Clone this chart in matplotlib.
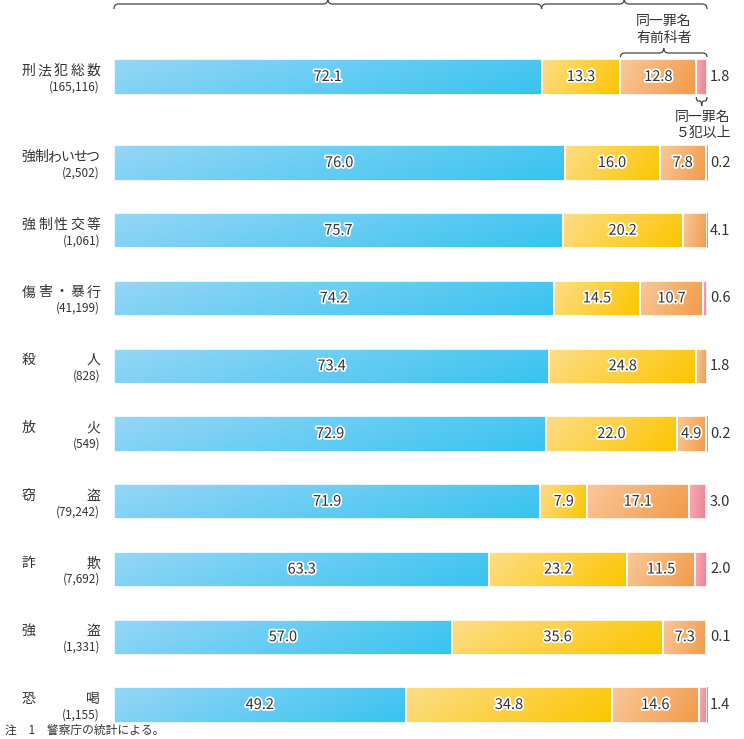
import numpy as np
import matplotlib.pyplot as plt
import matplotlib.transforms as mtransforms
import matplotlib.patheffects as pe
from matplotlib.colors import LinearSegmentedColormap
from matplotlib.path import Path
from matplotlib.patches import PathPatch

plt.rcParams['font.family'] = ['Noto Sans CJK JP', 'DejaVu Sans']

categories = ["刑法犯総数", "強制わいせつ", "強制性交等", "傷害・暴行", "殺人",
              "放火", "窃盗", "詐欺", "強盗", "恐喝"]
counts = ["(165,116)", "(2,502)", "(1,061)", "(41,199)", "(828)",
          "(549)", "(79,242)", "(7,692)", "(1,331)", "(1,155)"]
first_time = [72.1, 76.0, 75.7, 74.2, 73.4, 72.9, 71.9, 63.3, 57.0, 49.2]
other_prior = [13.3, 16.0, 20.2, 14.5, 24.8, 22.0, 7.9, 23.2, 35.6, 34.8]
same_prior = [12.8, 7.8, 4.1, 10.7, 1.8, 4.9, 17.1, 11.5, 7.3, 14.6]
same_5plus = [1.8, 0.2, 0.0, 0.6, 0.0, 0.2, 3.0, 2.0, 0.1, 1.4]

seg_colors = [("#95d6f6", "#38c3f0"),
              ("#fddd88", "#fcc500"),
              ("#f9c89a", "#f29a48"),
              ("#f6adb5", "#ee7f8f")]
text_color = "#333333"

W, H = 744, 739
x0_px, x1_px = 114, 707
top_px, row_px = 77, 67.75

fig = plt.figure(figsize=(W / 100, H / 100), dpi=100)
ax = fig.add_axes([x0_px / W, 0, (x1_px - x0_px) / W, 1])


def py(p):
    return (p - top_px) / row_px


def px_x(p):
    return (p - x0_px) / (x1_px - x0_px) * 100


n = len(categories)
ypos = np.array([0.0] + [py(163) + k for k in range(n - 1)])
bar_h = 0.52

gx, gy = np.meshgrid(np.linspace(0, 1, 64), np.linspace(0, 1, 16))
grad = 0.8 * gx + 0.2 * gy

halo = [pe.withStroke(linewidth=2.5, foreground="white")]
outside = [s5 if s5 > 0 else sp for sp, s5 in zip(same_prior, same_5plus)]

left = np.zeros(n)
for k, (seg, (c0, c1)) in enumerate(zip([first_time, other_prior, same_prior, same_5plus], seg_colors)):
    vals = np.array(seg)
    cmap = LinearSegmentedColormap.from_list("seg%d" % k, [c0, c1])
    bars = ax.barh(ypos, vals, left=left, height=bar_h, facecolor="none",
                   edgecolor="white", linewidth=1.2, zorder=3)
    for i, b in enumerate(bars):
        if vals[i] <= 0:
            b.set_linewidth(0)
            continue
        x, y, w, h = b.get_x(), b.get_y(), b.get_width(), b.get_height()
        im = ax.imshow(grad, cmap=cmap, extent=(x, x + w, y + h, y),
                       aspect="auto", interpolation="bilinear", zorder=2)
        im.set_clip_path(b)
        if k < 3 and not (k == 2 and same_5plus[i] == 0):
            ax.text(x + w / 2, ypos[i], "%.1f" % vals[i], ha="center", va="center",
                    fontsize=10.5, color=text_color, path_effects=halo, zorder=4)
    left += vals

for i in range(n):
    ax.text(px_x(710), ypos[i], "%.1f" % outside[i], ha="left", va="center",
            fontsize=10.5, color=text_color, clip_on=False)

# category labels, justified between two fixed edges
lab_tr = mtransforms.blended_transform_factory(fig.transFigure, ax.transData)
cw = 13.5
for i, name in enumerate(categories):
    xs = np.linspace(22 + cw / 2, 100 - cw / 2, len(name))
    for ch, xc in zip(name, xs):
        ax.text(xc / W, ypos[i] - 6 / row_px, ch, transform=lab_tr, ha="center",
                va="center", fontsize=10, color=text_color, clip_on=False)
    ax.text(100 / W, ypos[i] + 10 / row_px, counts[i], transform=lab_tr, ha="right",
            va="center", fontsize=8.5, color=text_color, clip_on=False)


def brace(xa, xb, y_end, y_line, y_tip, r):
    xm = (xa + xb) / 2
    ye, yl, yt = py(y_end), py(y_line), py(y_tip)
    verts = [(xa, ye), (xa, yl), (xa + r, yl),
             (xm - r, yl), (xm, yl), (xm, yt),
             (xm, yl), (xm + r, yl),
             (xb - r, yl), (xb, yl), (xb, ye)]
    codes = [Path.MOVETO, Path.CURVE3, Path.CURVE3,
             Path.LINETO, Path.CURVE3, Path.CURVE3,
             Path.CURVE3, Path.CURVE3,
             Path.LINETO, Path.CURVE3, Path.CURVE3]
    ax.add_patch(PathPatch(Path(verts, codes), facecolor="none", edgecolor="#444444",
                           linewidth=0.9, clip_on=False, zorder=5))


brace(0, first_time[0], 9, 4, -1, 0.8)
brace(first_time[0], 100, 9, 4, -1, 0.8)
sp_start = first_time[0] + other_prior[0]
brace(sp_start, 100, 57, 53, 48, 0.8)
brace(100 - same_5plus[0], 100, 97, 101, 106, 0.35)

xm3 = (sp_start + 100) / 2
ax.text(xm3, py(21), "同一罪名", ha="center", va="center", fontsize=10,
        color=text_color, clip_on=False)
ax.text(xm3, py(38), "有前科者", ha="center", va="center", fontsize=10,
        color=text_color, clip_on=False)
ax.text(px_x(703), py(117), "同一罪名", ha="center", va="center", fontsize=10,
        color=text_color, clip_on=False)
ax.text(px_x(704), py(133), "５犯以上", ha="center", va="center", fontsize=10,
        color=text_color, clip_on=False)

ax.text(5 / W, py(737), "注　1　警察庁の統計による。", transform=lab_tr, ha="left",
        va="bottom", fontsize=8.5, color=text_color, clip_on=False)

ax.set_xlim(0, 100)
ax.set_ylim(py(H), py(0))
ax.axis("off")

fig.savefig("out.png", dpi=100)
